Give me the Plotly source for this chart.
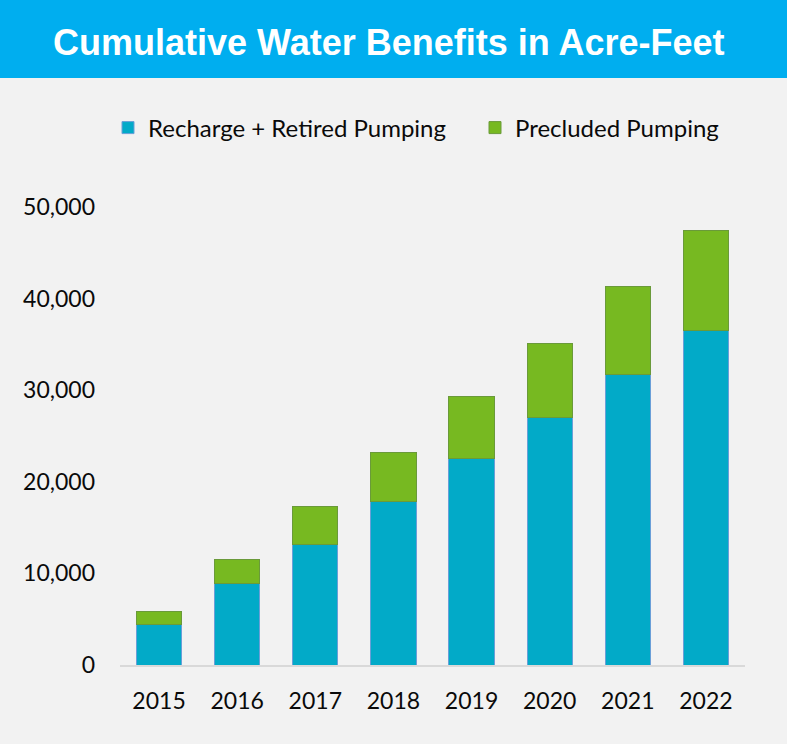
import plotly.graph_objects as go

years = ["2015", "2016", "2017", "2018", "2019", "2020", "2021", "2022"]
recharge_retired = [4440, 8950, 13210, 17800, 22490, 26970, 31690, 36570]
precluded = [1380, 2620, 4040, 5450, 6770, 8180, 9610, 10890]
y_ticks = [0, 10000, 20000, 30000, 40000, 50000]
y_tick_labels = ["0", "10,000", "20,000", "30,000", "40,000", "50,000"]

W, H = 787, 744
L, R, T, B = 120, 42, 207, 79
PW, PH = W - L - R, H - T - B

def px_x(x):
    return (x - L) / PW

def px_y(y):
    return (H - B - y) / PH

FONT = "Lato, 'Open Sans', sans-serif"
TXT = "#0A0A0A"

fig = go.Figure()
fig.add_trace(go.Bar(
    x=years, y=recharge_retired, name="Recharge + Retired Pumping",
    marker=dict(color="#02AAC8", line=dict(color="#6A9FD8", width=1)),
    legend="legend",
))
fig.add_trace(go.Bar(
    x=years, y=precluded, name="Precluded Pumping",
    marker=dict(color="#77B921", line=dict(color="#6A9A3A", width=1)),
    legend="legend2",
))

legend_common = dict(
    orientation="h", xanchor="left", yanchor="middle", y=px_y(128),
    font=dict(family=FONT, size=24, color=TXT),
    bgcolor="rgba(0,0,0,0)",
)

fig.update_layout(
    width=W, height=H,
    margin=dict(l=L, r=R, t=T, b=B),
    barmode="stack", bargap=0.42,
    paper_bgcolor="#F2F2F2", plot_bgcolor="#F2F2F2",
    font=dict(family=FONT, size=23, color=TXT),
    showlegend=True,
    legend=dict(x=px_x(108), **legend_common),
    legend2=dict(x=px_x(475), **legend_common),
    xaxis=dict(
        showgrid=False, showline=True, linecolor="#D9D9D9", linewidth=2,
        ticks="", tickfont=dict(family=FONT, size=23, color=TXT),
        ticklabelstandoff=14, fixedrange=True,
    ),
    yaxis=dict(
        range=[0, 50000], tickvals=y_ticks, ticktext=y_tick_labels,
        showgrid=False, showline=False, zeroline=False, ticks="",
        tickfont=dict(family=FONT, size=23, color=TXT),
        ticklabelstandoff=24, fixedrange=True,
    ),
    shapes=[dict(
        type="rect", xref="paper", yref="paper",
        x0=px_x(-5), x1=px_x(W + 5), y0=px_y(78), y1=px_y(-5),
        fillcolor="#00AEEF", line=dict(width=0), layer="below",
    )],
    annotations=[dict(
        text="<b>Cumulative Water Benefits in Acre-Feet</b>",
        xref="paper", yref="paper", x=px_x(388.5), y=px_y(42),
        xanchor="center", yanchor="middle", showarrow=False,
        font=dict(family="'Liberation Sans', Arial, sans-serif", size=36, color="#FFFFFF"),
    )],
)

fig.write_html("out.html")
